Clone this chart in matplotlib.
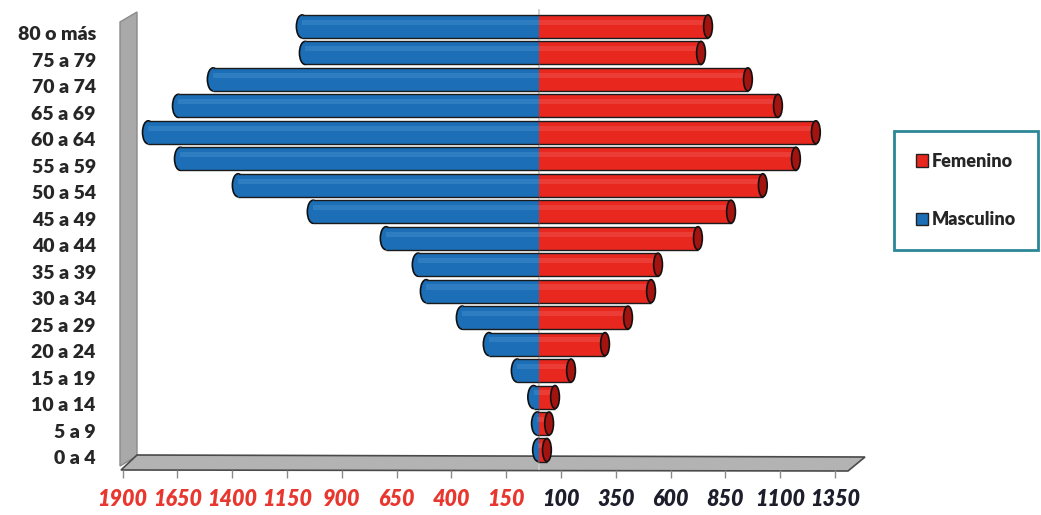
import matplotlib
matplotlib.use("Agg")
import matplotlib.pyplot as plt
from matplotlib.patches import Ellipse, Polygon, Patch
from matplotlib.transforms import ScaledTranslation

plt.rcParams["font.family"] = ["Lato", "DejaVu Sans"]

CATEGORIES = ["0 a 4", "5 a 9", "10 a 14", "15 a 19", "20 a 24", "25 a 29",
              "30 a 34", "35 a 39", "40 a 44", "45 a 49", "50 a 54", "55 a 59",
              "60 a 64", "65 a 69", "70 a 74", "75 a 79", "80 o más"]
MASCULINO = [3, 8, 25, 100, 228, 351, 515, 552, 698, 1031, 1373, 1637,
             1783, 1646, 1487, 1067, 1081]
FEMENINO = [36, 46, 73, 146, 301, 406, 511, 543, 725, 876, 1021, 1172,
            1263, 1090, 953, 739, 771]
TICKS = [-1900, -1650, -1400, -1150, -900, -650, -400, -150,
         100, 350, 600, 850, 1100, 1350]

RED = "#e8271f"
RED_CAP = "#a3130f"
BLUE = "#1c6fb6"
W, H = 1041, 515

fig = plt.figure(figsize=(W / 100, H / 100), dpi=100)

# decoration layer in pixel coordinates (wall + floor)
bg = fig.add_axes([0, 0, 1, 1])
bg.set_xlim(0, W)
bg.set_ylim(H, 0)
bg.axis("off")
bg.add_patch(Polygon([(120, 466), (120, 22), (137, 12), (137, 456)],
                     closed=True, facecolor="#a9a9a9", edgecolor="#8a8a8a", lw=1))
bg.add_patch(Polygon([(121, 470), (137, 455), (865, 457), (848, 471)],
                     closed=True, facecolor="#b3b3b3", edgecolor="#4a4a4a", lw=1.2))

ax = fig.add_axes([100 / W, 45 / H, 770 / W, 465 / H])
ax.patch.set_alpha(0)
ax.set_xlim(-2003, 1510)
ax.set_ylim(-0.756, 16.81)

bh = 0.87
cap_w = 40
ypos = list(range(len(CATEGORIES)))

ax.axvline(0, color="#c8c8c8", lw=1.2, zorder=1, ymax=0.99)

for y, m, f in zip(ypos, MASCULINO, FEMENINO):
    # masculino: cylinder to the left, rounded left end
    ax.add_patch(Ellipse((-m, y), cap_w * 1.3, bh, facecolor=BLUE,
                         edgecolor="#111111", lw=1.2, zorder=2))
    ax.barh(y, -m, height=bh, color=BLUE, edgecolor="none", zorder=3)
    ax.barh(y + bh * 0.18, -m, height=bh * 0.22, color="#4a93d0",
            edgecolor="none", alpha=0.4, zorder=3)
    ax.hlines([y - bh / 2, y + bh / 2], -m, 0, color="#1b1b1b", lw=1, zorder=4)
    # femenino: cylinder to the right, dark cap
    ax.barh(y, f, height=bh, color=RED, edgecolor="none", zorder=3)
    ax.barh(y + bh * 0.18, f, height=bh * 0.22, color="#f0605a",
            edgecolor="none", alpha=0.4, zorder=3)
    ax.hlines([y - bh / 2, y + bh / 2], 0, f, color="#1b1b1b", lw=1, zorder=4)
    ax.add_patch(Ellipse((f, y), cap_w, bh, facecolor=RED_CAP,
                         edgecolor="#111111", lw=1.2, zorder=5))

for s in ax.spines.values():
    s.set_visible(False)

ax.set_yticks(ypos)
ax.set_yticklabels(CATEGORIES, fontsize=14, fontweight="heavy", color="#262626")
ax.tick_params(axis="y", length=0, pad=3)
off = ScaledTranslation(0, -7 / 100, fig.dpi_scale_trans)
for lab in ax.get_yticklabels():
    lab.set_transform(lab.get_transform() + off)

ax.set_xticks(TICKS)
ax.set_xticklabels([str(abs(t)) for t in TICKS], fontsize=15.5,
                   fontweight="heavy", style="italic")
ax.tick_params(axis="x", length=6, width=1, color="#8a8a8a", pad=8)
for t, lab in zip(TICKS, ax.get_xticklabels()):
    lab.set_color("#e8372f" if t < 0 else "#1d1d2b")

handles = [Patch(facecolor=RED, edgecolor="#222222", label="Femenino"),
           Patch(facecolor=BLUE, edgecolor="#222222", label="Masculino")]
leg = fig.legend(handles=handles, loc="center", bbox_to_anchor=(0.928, 0.630),
                 prop={"size": 13, "weight": "heavy"}, handlelength=0.7,
                 handleheight=0.7, handletextpad=0.2, labelspacing=2.3,
                 borderpad=1.2, borderaxespad=0, fancybox=False, framealpha=1)
leg.get_frame().set_edgecolor("#2b8796")
leg.get_frame().set_linewidth(2)
for txt in leg.get_texts():
    txt.set_color("#262626")

fig.savefig("out.png", dpi=100)
